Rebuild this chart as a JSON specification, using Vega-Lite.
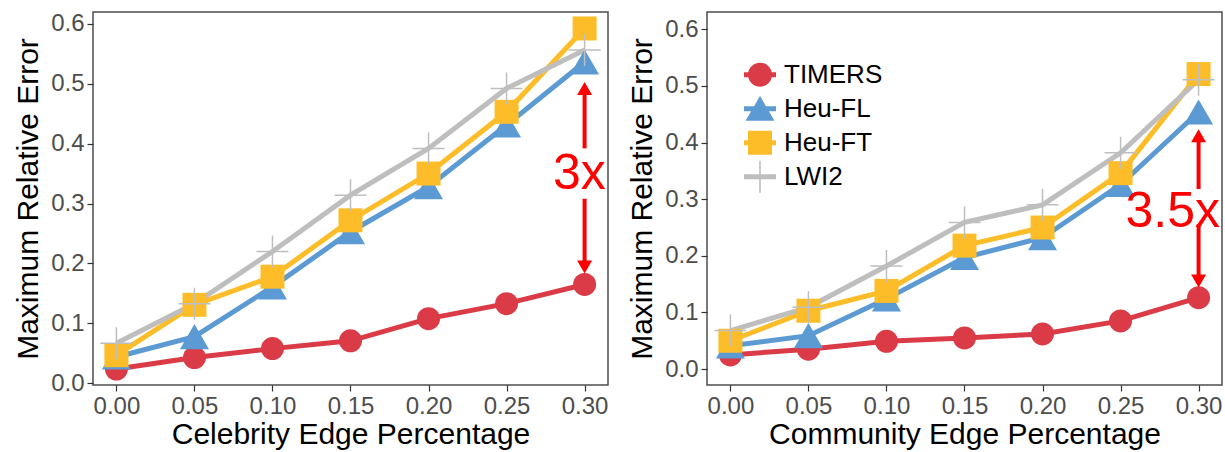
{
  "$schema": "https://vega.github.io/schema/vega-lite/v6.json",
  "padding": {"left": 12, "top": 10, "right": 0, "bottom": 0},
  "spacing": 17,
  "config": {
    "font": "Liberation Sans",
    "view": {"stroke": "#4d4d4d", "strokeWidth": 1.5},
    "axis": {"grid": false, "domain": false, "tickColor": "#333333", "tickSize": 6, "tickWidth": 1.2,
      "labelFontSize": 24, "labelColor": "#4D4D4D", "labelFont": "Liberation Sans", "labelPadding": 3,
      "titleFontSize": 30, "titleFontWeight": "normal", "titleColor": "black", "titleFont": "Liberation Sans"},
    "axisX": {"titlePadding": 1},
    "axisY": {"titlePadding": 7}
  },
  "resolve": {"legend": {"color": "independent", "shape": "independent"}},
  "datasets": {
    "celeb": [
      {"x": 0.00, "series": "TIMERS", "y": 0.024}, {"x": 0.05, "series": "TIMERS", "y": 0.043}, {"x": 0.10, "series": "TIMERS", "y": 0.058}, {"x": 0.15, "series": "TIMERS", "y": 0.071}, {"x": 0.20, "series": "TIMERS", "y": 0.108}, {"x": 0.25, "series": "TIMERS", "y": 0.133}, {"x": 0.30, "series": "TIMERS", "y": 0.165},
      {"x": 0.00, "series": "Heu-FL", "y": 0.044}, {"x": 0.05, "series": "Heu-FL", "y": 0.078}, {"x": 0.10, "series": "Heu-FL", "y": 0.161}, {"x": 0.15, "series": "Heu-FL", "y": 0.253}, {"x": 0.20, "series": "Heu-FL", "y": 0.328}, {"x": 0.25, "series": "Heu-FL", "y": 0.431}, {"x": 0.30, "series": "Heu-FL", "y": 0.536},
      {"x": 0.00, "series": "Heu-FT", "y": 0.047}, {"x": 0.05, "series": "Heu-FT", "y": 0.131}, {"x": 0.10, "series": "Heu-FT", "y": 0.178}, {"x": 0.15, "series": "Heu-FT", "y": 0.272}, {"x": 0.20, "series": "Heu-FT", "y": 0.350}, {"x": 0.25, "series": "Heu-FT", "y": 0.453}, {"x": 0.30, "series": "Heu-FT", "y": 0.592},
      {"x": 0.00, "series": "LWI2", "y": 0.067}, {"x": 0.05, "series": "LWI2", "y": 0.133}, {"x": 0.10, "series": "LWI2", "y": 0.220}, {"x": 0.15, "series": "LWI2", "y": 0.314}, {"x": 0.20, "series": "LWI2", "y": 0.392}, {"x": 0.25, "series": "LWI2", "y": 0.492}, {"x": 0.30, "series": "LWI2", "y": 0.556}
    ],
    "comm": [
      {"x": 0.00, "series": "TIMERS", "y": 0.025}, {"x": 0.05, "series": "TIMERS", "y": 0.035}, {"x": 0.10, "series": "TIMERS", "y": 0.049}, {"x": 0.15, "series": "TIMERS", "y": 0.055}, {"x": 0.20, "series": "TIMERS", "y": 0.062}, {"x": 0.25, "series": "TIMERS", "y": 0.085}, {"x": 0.30, "series": "TIMERS", "y": 0.126},
      {"x": 0.00, "series": "Heu-FL", "y": 0.041}, {"x": 0.05, "series": "Heu-FL", "y": 0.059}, {"x": 0.10, "series": "Heu-FL", "y": 0.124}, {"x": 0.15, "series": "Heu-FL", "y": 0.197}, {"x": 0.20, "series": "Heu-FL", "y": 0.232}, {"x": 0.25, "series": "Heu-FL", "y": 0.326}, {"x": 0.30, "series": "Heu-FL", "y": 0.454},
      {"x": 0.00, "series": "Heu-FT", "y": 0.050}, {"x": 0.05, "series": "Heu-FT", "y": 0.103}, {"x": 0.10, "series": "Heu-FT", "y": 0.138}, {"x": 0.15, "series": "Heu-FT", "y": 0.218}, {"x": 0.20, "series": "Heu-FT", "y": 0.250}, {"x": 0.25, "series": "Heu-FT", "y": 0.346}, {"x": 0.30, "series": "Heu-FT", "y": 0.521},
      {"x": 0.00, "series": "LWI2", "y": 0.068}, {"x": 0.05, "series": "LWI2", "y": 0.109}, {"x": 0.10, "series": "LWI2", "y": 0.182}, {"x": 0.15, "series": "LWI2", "y": 0.259}, {"x": 0.20, "series": "LWI2", "y": 0.290}, {"x": 0.25, "series": "LWI2", "y": 0.382}, {"x": 0.30, "series": "LWI2", "y": 0.511}
    ],
    "rulesL": [{"x": 0.3, "y": 0.392, "y2": 0.49}, {"x": 0.3, "y": 0.195, "y2": 0.308}],
    "headsL": [{"x": 0.3, "y": 0.492, "dir": "up"}, {"x": 0.3, "y": 0.194, "dir": "down"}],
    "textL": [{"x": 0.2966, "y": 0.35, "label": "3x"}],
    "rulesR": [{"x": 0.3, "y": 0.318, "y2": 0.41}, {"x": 0.3, "y": 0.157, "y2": 0.256}],
    "headsR": [{"x": 0.3, "y": 0.412, "dir": "up"}, {"x": 0.3, "y": 0.1555, "dir": "down"}],
    "textR": [{"x": 0.2834, "y": 0.278, "label": "3.5x"}]
  },
  "hconcat": [
    {
      "width": 515, "height": 373,
      "encoding": {
        "x": {"field": "x", "type": "quantitative", "title": "Celebrity Edge Percentage",
          "scale": {"domain": [-0.015, 0.315], "nice": false, "zero": false},
          "axis": {"values": [0, 0.05, 0.1, 0.15, 0.2, 0.25, 0.3], "format": ".2f"}},
        "y": {"field": "y", "type": "quantitative", "title": "Maximum Relative Error",
          "scale": {"domain": [-0.0027, 0.6195], "nice": false, "zero": false},
          "axis": {"values": [0, 0.1, 0.2, 0.3, 0.4, 0.5, 0.6], "format": ".1f"}}
      },
      "layer": [
        {"data": {"name": "celeb"}, "transform": [{"filter": "datum.series === 'TIMERS'"}], "mark": {"type": "line", "strokeWidth": 5, "color": "#DA3B46"}},
        {"data": {"name": "celeb"}, "transform": [{"filter": "datum.series === 'Heu-FL'"}], "mark": {"type": "line", "strokeWidth": 5, "color": "#5B9AD3"}},
        {"data": {"name": "celeb"}, "transform": [{"filter": "datum.series === 'Heu-FT'"}], "mark": {"type": "line", "strokeWidth": 5, "color": "#FDBD28"}},
        {"data": {"name": "celeb"}, "transform": [{"filter": "datum.series === 'LWI2'"}], "mark": {"type": "line", "strokeWidth": 5, "color": "#BEBEBE"}},
        {"data": {"name": "celeb"}, "transform": [{"filter": "datum.series === 'TIMERS'"}],
          "mark": {"type": "point", "shape": "circle", "filled": true, "size": 529, "opacity": 1, "color": "#DA3B46"}},
        {"data": {"name": "celeb"}, "transform": [{"filter": "datum.series === 'Heu-FL'"}],
          "mark": {"type": "point", "shape": "triangle-up", "filled": true, "size": 841, "opacity": 1, "color": "#5B9AD3"}},
        {"data": {"name": "celeb"}, "transform": [{"filter": "datum.series === 'Heu-FT'"}],
          "mark": {"type": "point", "shape": "square", "filled": true, "size": 576, "opacity": 1, "color": "#FDBD28"}},
        {"data": {"name": "celeb"}, "transform": [{"filter": "datum.series === 'LWI2'"}],
          "mark": {"type": "point", "shape": "M-1,0H1M0,-1V1", "filled": false, "size": 1024, "strokeWidth": 1.5, "opacity": 1, "color": "#BEBEBE"}},
        {"data": {"name": "rulesL"}, "mark": {"type": "rule", "color": "#FF0000", "strokeWidth": 4},
          "encoding": {"y2": {"field": "y2"}}},
        {"data": {"name": "headsL"}, "transform": [{"filter": "datum.dir === 'up'"}],
          "mark": {"type": "point", "shape": "triangle-up", "filled": true, "size": 225, "opacity": 1, "color": "#FF0000"}},
        {"data": {"name": "headsL"}, "transform": [{"filter": "datum.dir === 'down'"}],
          "mark": {"type": "point", "shape": "triangle-down", "filled": true, "size": 225, "opacity": 1, "color": "#FF0000"}},
        {"data": {"name": "textL"}, "mark": {"type": "text", "fontSize": 50, "color": "#FF0000", "align": "center", "baseline": "middle"},
          "encoding": {"text": {"field": "label"}}}
      ]
    },
    {
      "width": 515, "height": 373,
      "encoding": {
        "x": {"field": "x", "type": "quantitative", "title": "Community Edge Percentage",
          "scale": {"domain": [-0.015, 0.315], "nice": false, "zero": false},
          "axis": {"values": [0, 0.05, 0.1, 0.15, 0.2, 0.25, 0.3], "format": ".2f"}},
        "y": {"field": "y", "type": "quantitative", "title": "Maximum Relative Error",
          "scale": {"domain": [-0.0282, 0.6307], "nice": false, "zero": false},
          "axis": {"values": [0, 0.1, 0.2, 0.3, 0.4, 0.5, 0.6], "format": ".1f"}}
      },
      "layer": [
        {"data": {"name": "comm"}, "transform": [{"filter": "datum.series === 'TIMERS'"}], "mark": {"type": "line", "strokeWidth": 5, "color": "#DA3B46"}},
        {"data": {"name": "comm"}, "transform": [{"filter": "datum.series === 'Heu-FL'"}], "mark": {"type": "line", "strokeWidth": 5, "color": "#5B9AD3"}},
        {"data": {"name": "comm"}, "transform": [{"filter": "datum.series === 'Heu-FT'"}], "mark": {"type": "line", "strokeWidth": 5, "color": "#FDBD28"}},
        {"data": {"name": "comm"}, "transform": [{"filter": "datum.series === 'LWI2'"}], "mark": {"type": "line", "strokeWidth": 5, "color": "#BEBEBE"}},
        {"data": {"name": "comm"}, "transform": [{"filter": "datum.series === 'TIMERS'"}],
          "mark": {"type": "point", "shape": "circle", "filled": true, "size": 529, "opacity": 1, "color": "#DA3B46"}},
        {"data": {"name": "comm"}, "transform": [{"filter": "datum.series === 'Heu-FL'"}],
          "mark": {"type": "point", "shape": "triangle-up", "filled": true, "size": 841, "opacity": 1, "color": "#5B9AD3"}},
        {"data": {"name": "comm"}, "transform": [{"filter": "datum.series === 'Heu-FT'"}],
          "mark": {"type": "point", "shape": "square", "filled": true, "size": 576, "opacity": 1, "color": "#FDBD28"}},
        {"data": {"name": "comm"}, "transform": [{"filter": "datum.series === 'LWI2'"}],
          "mark": {"type": "point", "shape": "M-1,0H1M0,-1V1", "filled": false, "size": 1024, "strokeWidth": 1.5, "opacity": 1, "color": "#BEBEBE"}},
        {"data": {"name": "rulesR"}, "mark": {"type": "rule", "color": "#FF0000", "strokeWidth": 4},
          "encoding": {"y2": {"field": "y2"}}},
        {"data": {"name": "headsR"}, "transform": [{"filter": "datum.dir === 'up'"}],
          "mark": {"type": "point", "shape": "triangle-up", "filled": true, "size": 225, "opacity": 1, "color": "#FF0000"}},
        {"data": {"name": "headsR"}, "transform": [{"filter": "datum.dir === 'down'"}],
          "mark": {"type": "point", "shape": "triangle-down", "filled": true, "size": 225, "opacity": 1, "color": "#FF0000"}},
        {"data": {"name": "textR"}, "mark": {"type": "text", "fontSize": 50, "color": "#FF0000", "align": "center", "baseline": "middle"},
          "encoding": {"text": {"field": "label"}}},
        {"data": {"name": "comm"},
          "mark": {"type": "point", "filled": true, "size": 1024, "opacity": 0},
          "encoding": {
            "color": {"field": "series", "type": "nominal",
              "scale": {"domain": ["TIMERS", "Heu-FL", "Heu-FT", "LWI2"], "range": ["#DA3B46", "#5B9AD3", "#FDBD28", "#BEBEBE"]},
              "legend": {"orient": "none", "legendX": 37, "legendY": 46.7, "title": null, "padding": 0,
                "labelFontSize": 26, "labelColor": "black", "labelFont": "Liberation Sans", "symbolSize": 1024, "symbolStrokeWidth": 0,
                "symbolOpacity": 1, "rowPadding": 5, "labelOffset": 8}},
            "shape": {"field": "series", "type": "nominal",
              "scale": {"domain": ["TIMERS", "Heu-FL", "Heu-FT", "LWI2"],
                "range": [
                  "M-1,-0.16L-0.733,-0.16A0.75,0.75,0,0,1,0.733,-0.16L1,-0.16L1,0.16L0.733,0.16A0.75,0.75,0,0,1,-0.733,0.16L-1,0.16Z",
                  "M-1,-0.16L-0.369,-0.16L0,-0.8L0.369,-0.16L1,-0.16L1,0.16L0.554,0.16L0.9,0.76L-0.9,0.76L-0.554,0.16L-1,0.16Z",
                  "M-1,-0.16L-0.75,-0.16L-0.75,-0.75L0.75,-0.75L0.75,-0.16L1,-0.16L1,0.16L0.75,0.16L0.75,0.75L-0.75,0.75L-0.75,0.16L-1,0.16Z",
                  "M-1,-0.16L-0.05,-0.16L-0.05,-1L0.05,-1L0.05,-0.16L1,-0.16L1,0.16L0.05,0.16L0.05,1L-0.05,1L-0.05,0.16L-1,0.16Z"
                ]},
              "legend": {"orient": "none", "legendX": 37, "legendY": 46.7, "title": null, "padding": 0,
                "labelFontSize": 26, "labelColor": "black", "labelFont": "Liberation Sans", "symbolSize": 1024, "symbolStrokeWidth": 0,
                "symbolOpacity": 1, "rowPadding": 5, "labelOffset": 8}}
          }}
      ]
    }
  ]
}
